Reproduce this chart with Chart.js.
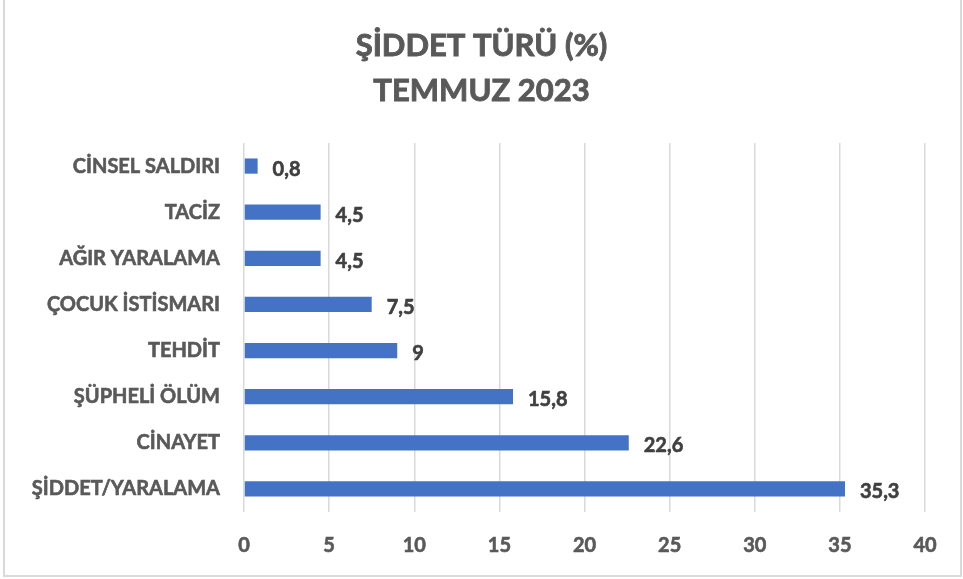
<!DOCTYPE html>
<html>
<head>
<meta charset="utf-8">
<script src="https://cdn.jsdelivr.net/npm/chart.js@4"></script>
<style>
  html, body { margin: 0; padding: 0; background: #ffffff; }
  #wrap { position: absolute; left: 0; top: 0; width: 963px; height: 579px; }
  #frame { position: absolute; left: 3px; top: -2px; width: 955px; height: 575px; border: 2px solid #d9d9d9; box-sizing: content-box; pointer-events: none; }
</style>
</head>
<body>
<div id="wrap">
  <canvas id="c" width="963" height="579"></canvas>
  <div id="frame"></div>
</div>
<script>
const titleLines = ["ŞİDDET TÜRÜ (%)", "TEMMUZ 2023"];
const categories = ["CİNSEL SALDIRI", "TACİZ", "AĞIR YARALAMA", "ÇOCUK İSTİSMARI", "TEHDİT", "ŞÜPHELİ ÖLÜM", "CİNAYET", "ŞİDDET/YARALAMA"];
const values = [0.8, 4.5, 4.5, 7.5, 9, 15.8, 22.6, 35.3];
const xTicks = [0, 5, 10, 15, 20, 25, 30, 35, 40];

const FONT = "Lato, 'Open Sans', sans-serif";

const valueLabels = {
  id: 'valueLabels',
  afterDatasetsDraw(chart) {
    const ctx = chart.ctx;
    const meta = chart.getDatasetMeta(0);
    ctx.save();
    ctx.font = "bold 20px " + FONT;
    ctx.fillStyle = "#404040";
    ctx.strokeStyle = "#404040";
    ctx.lineWidth = 0.6;
    ctx.textAlign = "left";
    ctx.textBaseline = "middle";
    meta.data.forEach((bar, i) => {
      const txt = String(values[i]).replace('.', ',');
      ctx.fillText(txt, bar.x + 15, bar.y + 3);
      ctx.strokeText(txt, bar.x + 15, bar.y + 3);
    });
    ctx.restore();
  }
};

const centeredTitle = {
  id: 'centeredTitle',
  afterDraw(chart) {
    const ctx = chart.ctx;
    ctx.save();
    ctx.font = "bold 31px " + FONT;
    ctx.fillStyle = "#595959";
    ctx.strokeStyle = "#595959";
    ctx.lineWidth = 0.9;
    ctx.textAlign = "center";
    ctx.textBaseline = "middle";
    const cx = chart.width / 2;
    titleLines.forEach((line, i) => {
      ctx.fillText(line, cx, 46 + i * 45);
      ctx.strokeText(line, cx, 46 + i * 45);
    });
    ctx.restore();
  }
};

new Chart(document.getElementById('c'), {
  type: 'bar',
  data: {
    labels: categories,
    datasets: [{
      data: values,
      backgroundColor: '#4472C4',
      borderWidth: 0,
      categoryPercentage: 1.0,
      barPercentage: 0.33
    }]
  },
  plugins: [valueLabels, centeredTitle],
  options: {
    indexAxis: 'y',
    responsive: false,
    animation: false,
    devicePixelRatio: 1,
    layout: { padding: { left: 0, right: 38, top: 143, bottom: 0 } },
    plugins: {
      legend: { display: false },
      tooltip: { enabled: false },
      title: { display: false }
    },
    scales: {
      x: {
        min: 0, max: 40,
        afterBuildTicks(scale) { scale.ticks = xTicks.map(v => ({ value: v })); },
        afterFit(scale) { scale.height = 67; },
        grid: { color: '#d9d9d9', lineWidth: 1.5, drawTicks: false },
        border: { display: false },
        ticks: {
          color: '#595959',
          textStrokeColor: '#595959',
          textStrokeWidth: 0.6,
          padding: 22,
          font: { family: FONT, size: 20, weight: 'bold' }
        }
      },
      y: {
        afterFit(scale) { scale.width = 244; },
        grid: { display: false, drawTicks: false },
        border: { display: false },
        ticks: {
          color: '#595959',
          textStrokeColor: '#595959',
          textStrokeWidth: 0.6,
          padding: 24,
          font: { family: FONT, size: 20, weight: 'bold' }
        }
      }
    }
  }
});
</script>
</body>
</html>
